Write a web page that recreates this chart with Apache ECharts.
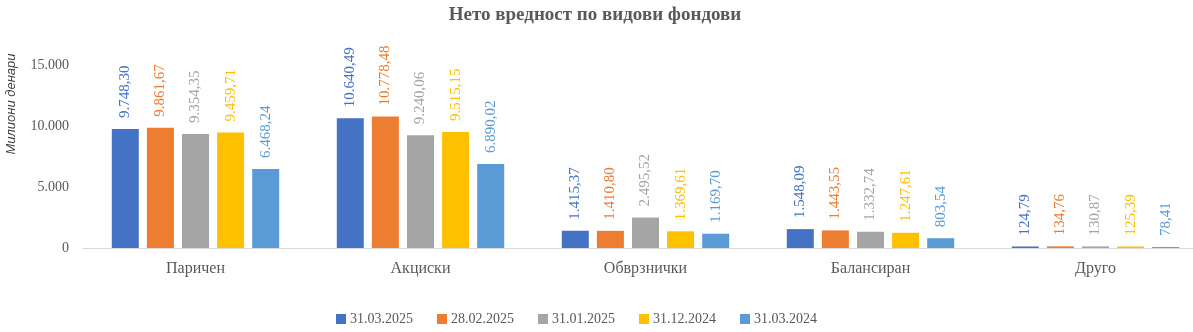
<!DOCTYPE html>
<html>
<head>
<meta charset="utf-8">
<script src="https://cdn.jsdelivr.net/npm/echarts@6/dist/echarts.min.js"></script>
<style>
  html, body { margin: 0; padding: 0; background: #fff; overflow: hidden; }
  #wrap { width: 1193px; height: 332px; overflow: hidden; }
  /* plot area runs slightly past the right edge of the view */
  #chart { width: 1209px; height: 332px; }
</style>
</head>
<body>
<div id="wrap"><div id="chart"></div></div>
<script>
// Fund categories on the x axis
const categories = ['Паричен', 'Акциски', 'Обврзнички', 'Балансиран', 'Друго'];

// Reporting dates (one bar series each)
const seriesNames = ['31.03.2025', '28.02.2025', '31.01.2025', '31.12.2024', '31.03.2024'];

// Net asset value, millions of denars
const v_31_03_2025 = [9748.30, 10640.49, 1415.37, 1548.09, 124.79];
const v_28_02_2025 = [9861.67, 10778.48, 1410.80, 1443.55, 134.76];
const v_31_01_2025 = [9354.35, 9240.06, 2495.52, 1332.74, 130.87];
const v_31_12_2024 = [9459.71, 9515.15, 1369.61, 1247.61, 125.39];
const v_31_03_2024 = [6468.24, 6890.02, 1169.70, 803.54, 78.41];

const yTicks = [0, 5000, 10000, 15000];

const colors = ['#4472C4', '#ED7D31', '#A5A5A5', '#FFC000', '#5B9BD5'];
const values = [v_31_03_2025, v_28_02_2025, v_31_01_2025, v_31_12_2024, v_31_03_2024];

const FONT = '"Liberation Serif", "DejaVu Serif", serif';

// 1234.5 -> "1.234,50"
function fmtNum(v, decimals) {
  const parts = v.toFixed(decimals).split('.');
  const intPart = parts[0].replace(/\B(?=(\d{3})+(?!\d))/g, '.');
  return parts.length > 1 ? intPart + ',' + parts[1] : intPart;
}

const chart = echarts.init(document.getElementById('chart'), null, { renderer: 'canvas' });

chart.setOption({
  animation: false,
  title: {
    text: 'Нето вредност по видови фондови',
    left: 590,
    textAlign: 'center',
    top: 1,
    textStyle: { fontFamily: FONT, fontSize: 19, fontWeight: 'bold', color: '#595959' }
  },
  legend: {
    data: seriesNames,
    left: 331,
    top: 307,
    itemWidth: 10,
    itemHeight: 10,
    itemGap: 24,
    icon: 'rect',
    textStyle: { fontFamily: FONT, fontSize: 14, color: '#595959', padding: [0, 0, 0, -1] }
  },
  grid: { left: 83, right: 1, top: 65, bottom: 84 },
  xAxis: {
    type: 'category',
    data: categories,
    axisLine: { lineStyle: { color: '#D9D9D9', width: 1 } },
    axisTick: { show: false },
    axisLabel: { fontFamily: FONT, fontSize: 16, color: '#595959', margin: 13 }
  },
  yAxis: {
    type: 'value',
    min: yTicks[0],
    max: yTicks[yTicks.length - 1],
    interval: yTicks[1] - yTicks[0],
    splitLine: { show: false },
    axisLine: { show: false },
    axisTick: { show: false },
    axisLabel: {
      fontFamily: FONT, fontSize: 14, color: '#595959', margin: 14,
      formatter: v => fmtNum(v, 0)
    }
  },
  graphic: [{
    type: 'text',
    x: 11,
    y: 104,
    rotation: Math.PI / 2,
    style: {
      text: 'Милиони денари',
      font: 'italic 13px "Liberation Sans", "DejaVu Sans", sans-serif',
      fill: '#404040',
      align: 'center',
      verticalAlign: 'middle'
    }
  }],
  series: seriesNames.map((name, i) => ({
    name: name,
    type: 'bar',
    data: values[i],
    barWidth: 27,
    barGap: '30%',
    itemStyle: { color: colors[i] },
    label: {
      show: true,
      position: 'top',
      rotate: 90,
      align: 'left',
      verticalAlign: 'middle',
      distance: 11,
      fontFamily: FONT,
      fontSize: 15,
      color: colors[i],
      formatter: p => fmtNum(p.value, 2)
    }
  }))
});
</script>
</body>
</html>
